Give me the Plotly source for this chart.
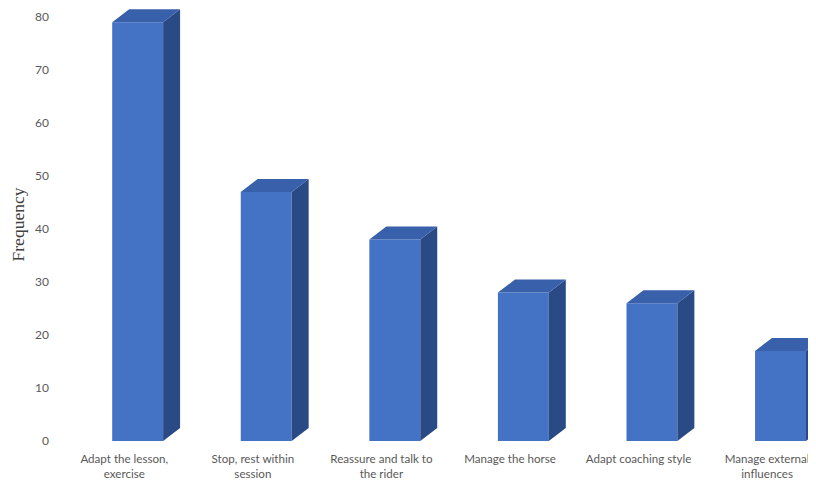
import plotly.graph_objects as go

categories = ["Adapt the lesson,<br>exercise", "Stop, rest within<br>session",
              "Reassure and talk to<br>the rider", "Manage the horse",
              "Adapt coaching style", "Manage external<br>influences"]
frequency = [79, 47, 38, 28, 26, 17]
y_ticks = [0, 10, 20, 30, 40, 50, 60, 70, 80]

FRONT = "#4472C4"
SIDE = "#2A4A85"
TOP = "#3860AB"
LEFT, RIGHT = -0.094, 0.302   # front face extent relative to category centre
DX, DY = 0.132, 2.45          # depth of the 3D extrusion (x in category units, y in value units)

xs = list(range(len(categories)))

fig = go.Figure()

# front faces
fig.add_trace(go.Bar(x=xs, y=frequency, width=RIGHT - LEFT, offset=LEFT,
                     marker=dict(color=FRONT, line=dict(width=0)), hoverinfo="skip"))

# side faces
sx, sy = [], []
for i, v in zip(xs, frequency):
    r = i + RIGHT
    sx += [r, r + DX, r + DX, r, r, None]
    sy += [0, DY, v + DY, v, 0, None]
fig.add_trace(go.Scatter(x=sx, y=sy, fill="toself", fillcolor=SIDE, mode="lines",
                         line=dict(width=0, color=SIDE), hoverinfo="skip"))

# top faces
tx, ty = [], []
for i, v in zip(xs, frequency):
    l, r = i + LEFT, i + RIGHT
    tx += [l, r, r + DX, l + DX, l, None]
    ty += [v, v, v + DY, v + DY, v, None]
fig.add_trace(go.Scatter(x=tx, y=ty, fill="toself", fillcolor=TOP, mode="lines",
                         line=dict(width=0, color=TOP), hoverinfo="skip"))

fig.update_layout(
    width=808, height=476,
    margin=dict(l=52, r=0, t=0, b=43),
    paper_bgcolor="white", plot_bgcolor="white",
    showlegend=False,
    font=dict(family="Lato, Open Sans, sans-serif", size=12, color="#595959"),
    xaxis=dict(range=[-0.5, 5.38], tickmode="array", tickvals=xs, ticktext=categories,
               showgrid=False, zeroline=False, showline=False, ticks="",
               ticklabelstandoff=9, tickfont=dict(size=11.6, color="#595959")),
    yaxis=dict(range=[0, 81.7], tickmode="array", tickvals=y_ticks,
               showgrid=False, zeroline=False, showline=False, ticks="",
               ticklabelstandoff=10, tickfont=dict(size=12, color="#595959")),
)
fig.update_yaxes(title=dict(text="Frequency", standoff=12,
                            font=dict(family="Liberation Serif, serif", size=17.5, color="#404040")))

fig.write_html("out.html")
